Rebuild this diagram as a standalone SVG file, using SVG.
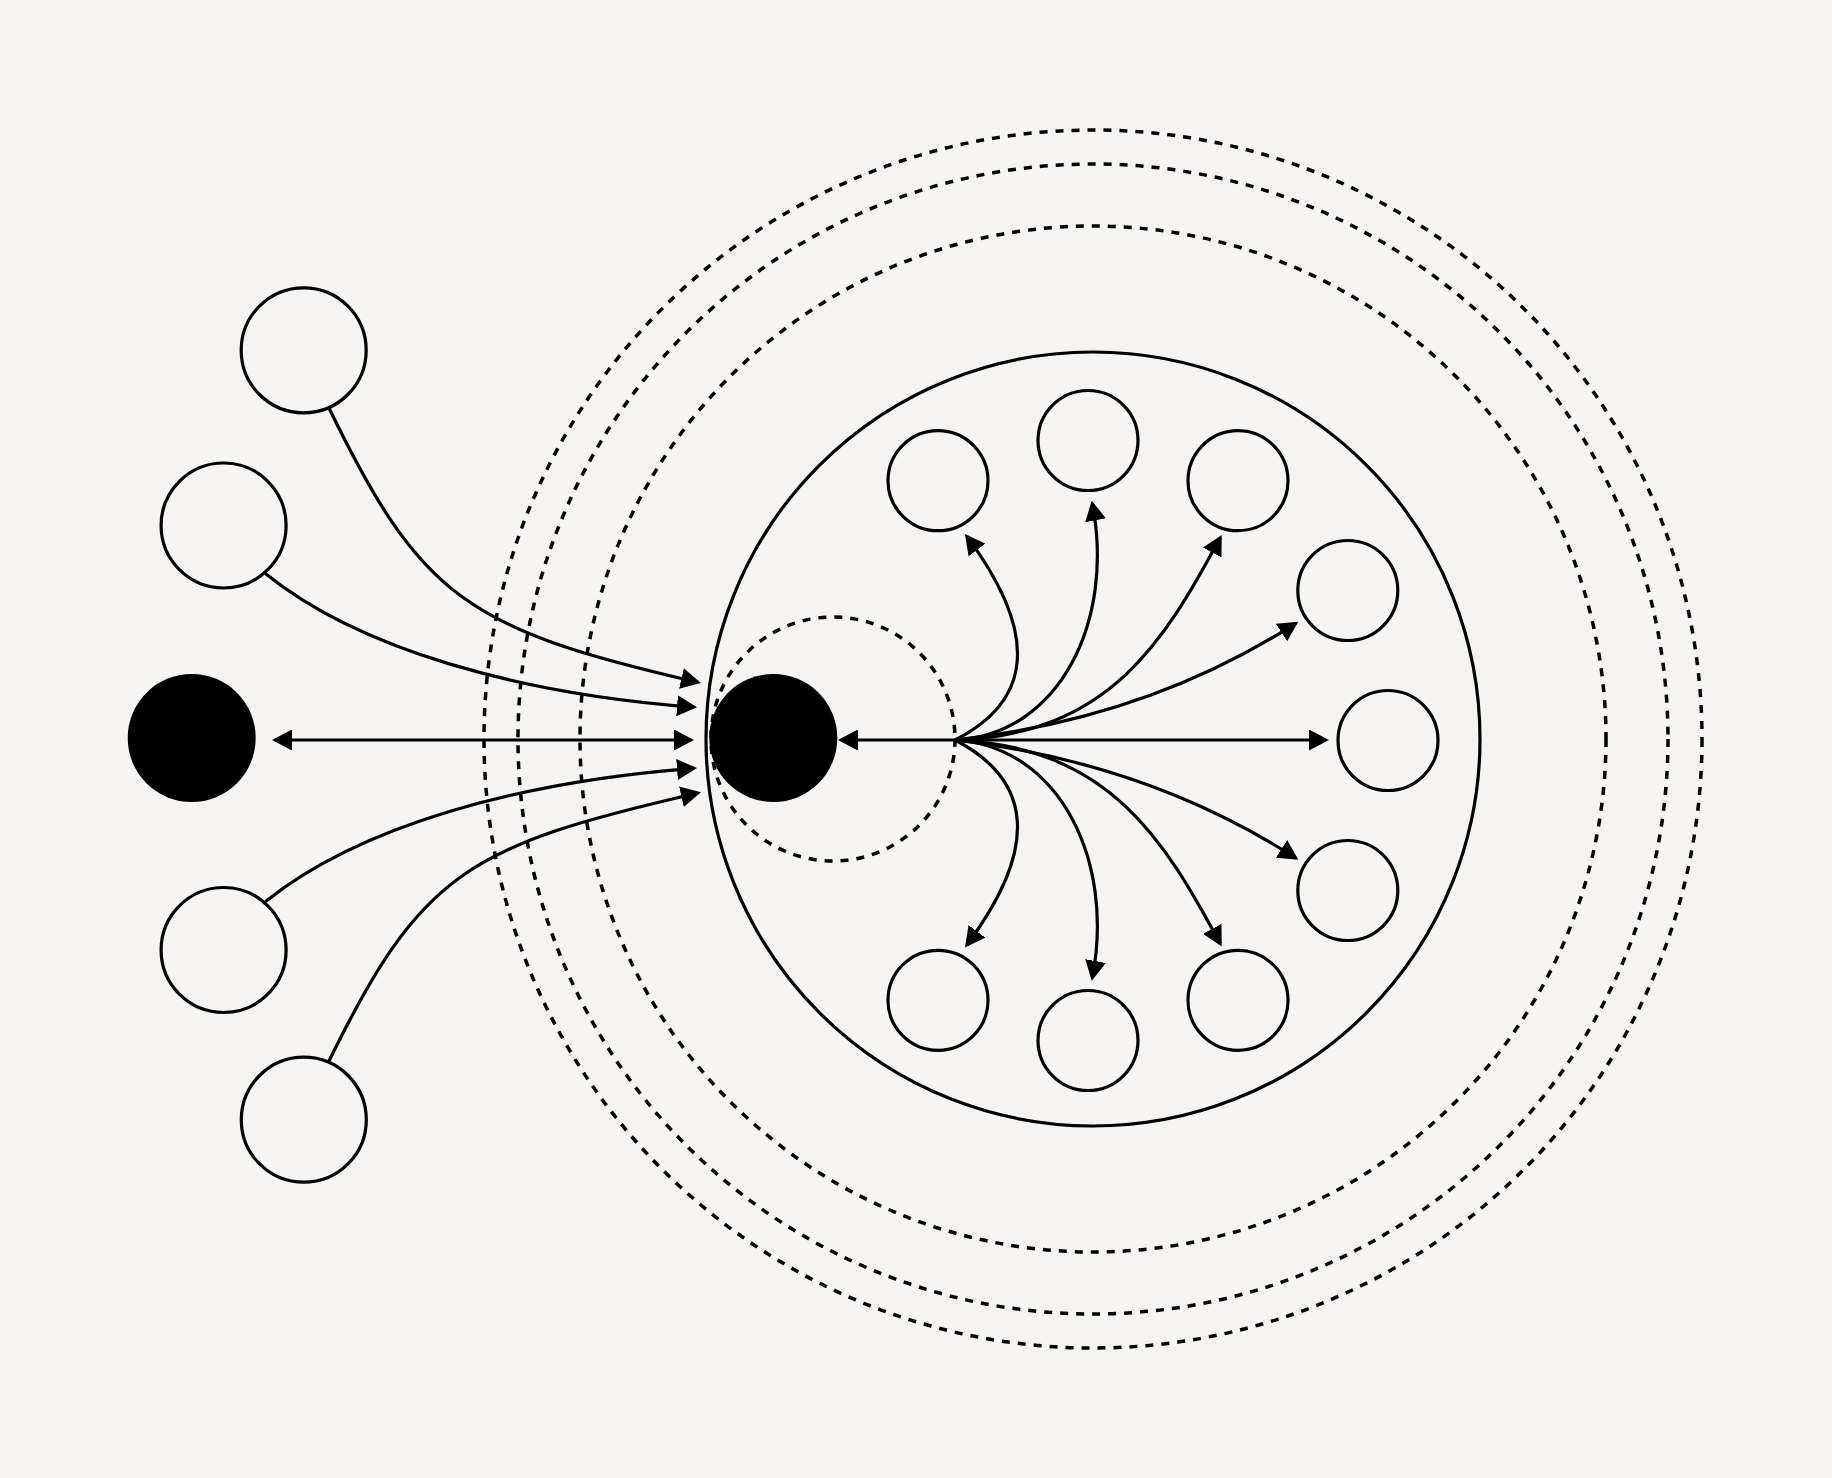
<svg xmlns="http://www.w3.org/2000/svg" width="1832" height="1478" viewBox="0 0 1832 1478">
<defs>
<style>
.bg{fill:#f5f4f2}
.ring{fill:none;stroke:#000;stroke-width:3.5;stroke-dasharray:8 8}
.big{fill:none;stroke:#000;stroke-width:3.2}
.node{fill:none;stroke:#000;stroke-width:3.2}
.solid{fill:#000;stroke:none}
.edge{fill:none;stroke:#000;stroke-width:3.2;marker-end:url(#ah)}
.edge2{fill:none;stroke:#000;stroke-width:3.2;marker-start:url(#ah);marker-end:url(#ah)}
.line{fill:none;stroke:#000;stroke-width:3.2}
</style>
<marker id="ah" markerUnits="userSpaceOnUse" viewBox="0 0 20 21" markerWidth="20" markerHeight="21" refX="17" refY="10.5" orient="auto-start-reverse">
<path d="M0,0 L20,10.5 L0,21 z" fill="#000"/>
</marker>
</defs>
<rect class="bg" x="0" y="0" width="1832" height="1478"/>

<g id="rings">
<circle class="ring" cx="1093" cy="739" r="609"/>
<circle class="ring" cx="1093" cy="739" r="575"/>
<circle class="ring" cx="1093" cy="739" r="513"/>
<circle class="ring" cx="833" cy="739" r="122" stroke-dasharray="9 7"/>
</g>

<g id="group-boundary">
<circle class="big" cx="1093" cy="739" r="387"/>
</g>

<g id="connectors">
<path class="edge2" d="M275,740 L691,740"/>
<path class="edge2" d="M841,740 L1326,740"/>
<path class="edge" d="M328.5,407 C421,598 467,629 698,682.3"/>
<path class="edge" d="M265.3,573.4 C358.9,649 517.5,693.8 694,707.1"/>
<path class="edge" d="M265.3,901.7 C358.9,826.4 517.5,781.6 694,768.3"/>
<path class="edge" d="M328.5,1062 C421,873 467,846 698,793"/>
<path class="edge" d="M955,740 Q1073.8,680 966.8,536.4"/>
<path class="edge" d="M955,740 C1060,735 1115,620 1092.3,503.6"/>
<path class="edge" d="M955,740 C1110,735 1165,640 1220.3,537.6"/>
<path class="edge" d="M955,740 Q1147,719 1295.8,623.3"/>
<path class="edge" d="M955,740 Q1147,762.4 1295.8,858.1"/>
<path class="edge" d="M955,740 C1110,746.4 1165,841.4 1220.3,943.8"/>
<path class="edge" d="M955,740 C1060,746.4 1115,861.4 1092.3,977.8"/>
<path class="edge" d="M955,740 Q1073.8,801.4 966.8,945"/>
</g>

<g id="source">
<circle class="solid" cx="191.7" cy="738" r="64"/>
</g>
<g id="hub">
<circle class="solid" cx="773.3" cy="738" r="64"/>
</g>

<g id="left-1"><circle class="node" cx="303.7" cy="350.3" r="62.5"/></g>
<g id="left-2"><circle class="node" cx="223.6" cy="525.5" r="62.5"/></g>
<g id="left-3"><circle class="node" cx="223.6" cy="950" r="62.5"/></g>
<g id="left-4"><circle class="node" cx="303.8" cy="1119.7" r="62.5"/></g>

<g id="out-1"><circle class="node" cx="938" cy="480.7" r="50"/></g>
<g id="out-2"><circle class="node" cx="1088" cy="440.5" r="50"/></g>
<g id="out-3"><circle class="node" cx="1238" cy="480.7" r="50"/></g>
<g id="out-4"><circle class="node" cx="1347.8" cy="590.5" r="50"/></g>
<g id="out-5"><circle class="node" cx="1388" cy="740.5" r="50"/></g>
<g id="out-6"><circle class="node" cx="1347.8" cy="890.5" r="50"/></g>
<g id="out-7"><circle class="node" cx="1238" cy="1000.3" r="50"/></g>
<g id="out-8"><circle class="node" cx="1088" cy="1040.5" r="50"/></g>
<g id="out-9"><circle class="node" cx="938" cy="1000.3" r="50"/></g>
</svg>
